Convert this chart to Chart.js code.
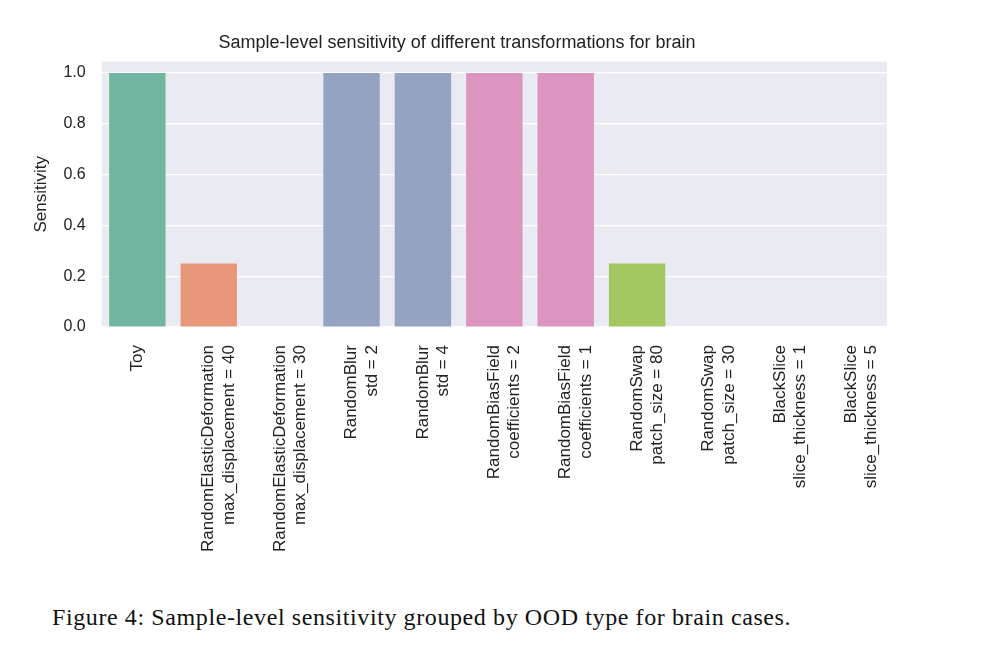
<!DOCTYPE html>
<html>
<head>
<meta charset="utf-8">
<script src="https://cdn.jsdelivr.net/npm/chart.js@4"></script>
<style>
  body { margin: 0; background: #fff; width: 984px; height: 651px; overflow: hidden; position: relative; }
  #wrap { position: absolute; left: 0; top: 0; width: 984px; height: 562px; }
  #caption { position: absolute; left: 52px; top: 604px; font-family: 'Liberation Serif', 'DejaVu Serif', serif; font-size: 24px; letter-spacing: 0.6px; color: #111; white-space: nowrap; }
</style>
</head>
<body>
<div id="wrap"><canvas id="chart"></canvas></div>
<div id="caption">Figure 4: Sample-level sensitivity grouped by OOD type for brain cases.</div>
<script>
const categories = [
  ['Toy'],
  ['RandomElasticDeformation', 'max_displacement = 40'],
  ['RandomElasticDeformation', 'max_displacement = 30'],
  ['RandomBlur', 'std = 2'],
  ['RandomBlur', 'std = 4'],
  ['RandomBiasField', 'coefficients = 2'],
  ['RandomBiasField', 'coefficients = 1'],
  ['RandomSwap', 'patch_size = 80'],
  ['RandomSwap', 'patch_size = 30'],
  ['BlackSlice', 'slice_thickness = 1'],
  ['BlackSlice', 'slice_thickness = 5']
];
const sensitivity = [1.0, 0.25, 0.0, 1.0, 1.0, 1.0, 1.0, 0.25, 0.0, 0.0, 0.0];
const barColors = ['#72b6a1', '#e9977a', '#e9977a', '#95a3c3', '#95a3c3', '#dc95c0', '#dc95c0', '#a3c862', '#a3c862', '#e2c55a', '#e2c55a'];
const yTicks = [0, 0.2, 0.4, 0.6, 0.8, 1.0];

const bgPlugin = {
  id: 'bg',
  beforeDraw(chart) {
    const a = chart.chartArea, ctx = chart.ctx;
    ctx.save();
    ctx.fillStyle = '#eaeaf2';
    ctx.fillRect(a.left, a.top, a.right - a.left, a.bottom - a.top);
    ctx.restore();
  }
};

const font = 'Arial, Liberation Sans, sans-serif';

new Chart(document.getElementById('chart'), {
  type: 'bar',
  data: {
    labels: categories,
    datasets: [{
      data: sensitivity,
      backgroundColor: barColors,
      barPercentage: 0.79,
      categoryPercentage: 1.0
    }]
  },
  plugins: [bgPlugin],
  options: {
    responsive: true,
    maintainAspectRatio: false,
    animation: false,
    layout: { padding: { left: 27, right: 97, top: 32, bottom: 0 } },
    plugins: {
      legend: { display: false },
      tooltip: { enabled: false },
      title: {
        display: true,
        text: 'Sample-level sensitivity of different transformations for brain',
        color: '#222',
        font: { family: font, size: 18, weight: 'normal' },
        padding: { top: 0, bottom: 8 }
      }
    },
    scales: {
      x: {
        grid: { display: false },
        border: { display: false },
        ticks: {
          color: '#222',
          minRotation: 90,
          maxRotation: 90,
          autoSkip: false,
          padding: 10,
          font: { family: font, size: 17 }
        }
      },
      y: {
        min: 0,
        max: 1.045,
        afterBuildTicks(axis) { axis.ticks = yTicks.map(v => ({ value: v })); },
        grid: { color: '#ffffff', lineWidth: 1.3 },
        border: { display: false },
        ticks: {
          color: '#222',
          padding: 8,
          callback: v => v.toFixed(1),
          font: { family: font, size: 16 }
        },
        title: {
          display: true,
          text: 'Sensitivity',
          color: '#222',
          font: { family: font, size: 17 }
        }
      }
    }
  }
});
</script>
</body>
</html>
